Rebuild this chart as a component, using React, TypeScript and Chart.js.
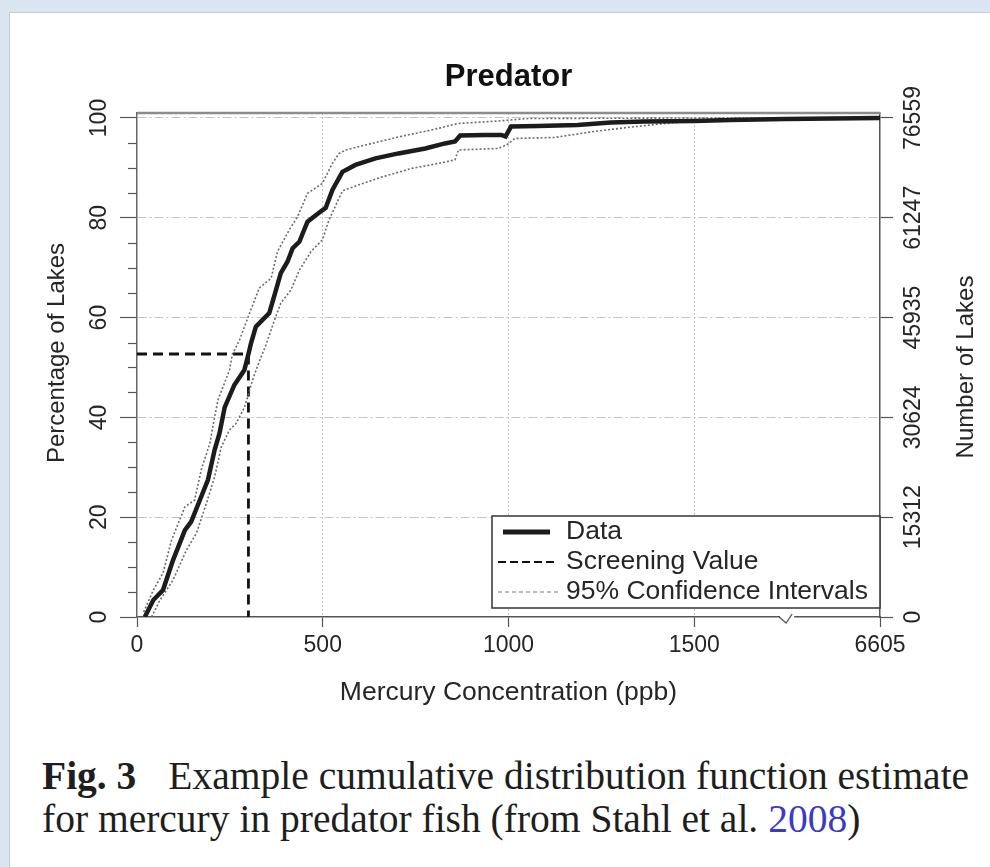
import React, { useEffect, useRef } from "react";
import { Chart, registerables, LinearScale } from "chart.js";

Chart.register(...registerables);

// ---------- data ----------
const TITLE = "Predator";
const X_TITLE = "Mercury Concentration (ppb)";
const Y_TITLE = "Percentage of Lakes";
const Y2_TITLE = "Number of Lakes";

const X_TICKS = [0, 500, 1000, 1500, 6605];
const X_BREAK = 1500;
const X_MAX = 6605;
const Y_TICKS_STEP = 20;
const NUMBER_TICK_LABELS = ["0", "15312", "30624", "45935", "61247", "76559"];

const DATA_CONC = [21, 44, 70, 97, 129, 146, 169, 191, 209, 222, 236, 262, 289, 300, 307, 320, 356, 374, 387, 405, 419, 437, 450, 459, 490, 508, 526, 553, 588, 642, 704, 776, 829, 856, 870, 937, 980, 992, 1007, 1079, 1186, 1275, 1365, 1500, 2500, 4000, 6605];
const DATA_PCT = [0, 3.4, 5.4, 11.4, 17.4, 19.1, 23.4, 27.5, 33.5, 36.8, 42, 46.5, 49.5, 52.7, 54.9, 58.2, 60.9, 65.5, 68.9, 71.2, 73.9, 75.2, 77.6, 79.2, 81, 82, 85.6, 89.2, 90.6, 91.9, 92.9, 93.9, 94.9, 95.3, 96.5, 96.6, 96.6, 96.3, 98.3, 98.4, 98.6, 99.1, 99.3, 99.4, 99.6, 99.8, 100];

const UP_CONC = [18, 44, 70, 93, 129, 155, 173, 196, 209, 218, 249, 257, 276, 303, 329, 361, 378, 410, 432, 459, 499, 526, 544, 562, 615, 704, 793, 865, 972, 1052, 1500, 6605];
const UP_PCT = [1, 5.4, 8.8, 15.4, 22.1, 23.4, 29.5, 34.8, 40.1, 43.5, 49.5, 52.7, 55.5, 60.9, 65.9, 67.9, 73.2, 77.6, 80.2, 84.9, 86.9, 90.9, 92.9, 93.6, 94.6, 96.2, 97.6, 98.9, 99.4, 99.9, 100, 100];

const LO_CONC = [39, 62, 97, 133, 160, 187, 209, 227, 249, 267, 289, 298, 311, 329, 347, 370, 387, 414, 437, 468, 499, 517, 553, 597, 660, 740, 811, 856, 865, 972, 995, 1017, 1124, 1231, 1320, 1409, 1500, 2500, 6605];
const LO_PCT = [0, 3.4, 7.4, 13.4, 16.8, 22.8, 28.1, 34.1, 37.5, 38.8, 42, 44.1, 47.5, 51.2, 54.5, 59.5, 62.9, 65.5, 69.5, 73.2, 75.6, 79.6, 85.4, 86.6, 88.2, 89.9, 90.9, 91.6, 93.6, 93.9, 94.6, 95.9, 96.1, 97.3, 98.1, 98.8, 99.4, 99.7, 100];

const SCREEN_VALUE = 300;
const SCREEN_PCT = 52.7;

const LEGEND_LABELS = ["Data", "Screening Value", "95% Confidence Intervals"];

// ---------- broken x scale ----------
const TAIL_WIDTH = 500; // virtual width of the 1500..6605 segment
function toVirtual(v: number) {
  if (v <= X_BREAK) return v;
  return X_BREAK + ((v - X_BREAK) / (X_MAX - X_BREAK)) * TAIL_WIDTH;
}
function fromVirtual(u: number) {
  if (u <= X_BREAK) return u;
  return X_BREAK + ((u - X_BREAK) / TAIL_WIDTH) * (X_MAX - X_BREAK);
}
const VIRTUAL_MAX = X_BREAK + TAIL_WIDTH;

class BrokenLinearScale extends LinearScale {
  static id = "brokenLinear";
  static defaults = (LinearScale as any).defaults;
  getPixelForValue(value: number) {
    return (this as any).getPixelForDecimal(toVirtual(value) / VIRTUAL_MAX);
  }
  getValueForPixel(pixel: number) {
    return fromVirtual((this as any).getDecimalForPixel(pixel) * VIRTUAL_MAX);
  }
}
Chart.register(BrokenLinearScale as any);

const SANS = '"Liberation Sans", Arial, Helvetica, sans-serif';
const TEXT = "#262626";

const pts = (xs: number[], ys: number[]) => xs.map((x, i) => ({ x, y: ys[i] }));

const decorPlugin = {
  id: "decor",
  afterDraw(chart: any) {
    const { ctx, chartArea: a, scales } = chart;
    const xs = scales.x;
    const ys = scales.y;
    ctx.save();

    // top box edge
    ctx.strokeStyle = "#8c8c8c";
    ctx.lineWidth = 2.5;
    ctx.beginPath();
    ctx.moveTo(a.left, a.top);
    ctx.lineTo(a.right, a.top);
    ctx.stroke();

    // minor ticks on left axis
    ctx.strokeStyle = "#555";
    ctx.lineWidth = 1.2;
    for (let v = 5; v < 100; v += 5) {
      if (v % Y_TICKS_STEP === 0) continue;
      const py = Math.round(ys.getPixelForValue(v)) + 0.5;
      ctx.beginPath();
      ctx.moveTo(a.left - 9, py);
      ctx.lineTo(a.left, py);
      ctx.stroke();
    }

    // axis break mark
    const bx = (xs.getPixelForValue(X_BREAK) + xs.getPixelForValue(X_MAX)) / 2;
    ctx.fillStyle = "#fff";
    ctx.fillRect(bx - 7, a.bottom - 2, 14, 4);
    ctx.strokeStyle = "#555";
    ctx.lineWidth = 1.3;
    ctx.beginPath();
    ctx.moveTo(bx - 8, a.bottom);
    ctx.lineTo(bx - 1, a.bottom + 6);
    ctx.lineTo(bx + 5, a.bottom - 3);
    ctx.stroke();

    // title
    ctx.fillStyle = "#111";
    ctx.font = `bold 31px ${SANS}`;
    ctx.textAlign = "center";
    ctx.textBaseline = "alphabetic";
    ctx.fillText(TITLE, (a.left + a.right) / 2, a.top - 27);

    // axis titles
    ctx.fillStyle = TEXT;
    ctx.font = `26.5px ${SANS}`;
    ctx.textBaseline = "middle";
    ctx.fillText(X_TITLE, (a.left + a.right) / 2, a.bottom + 76);

    ctx.font = `24px ${SANS}`;
    ctx.save();
    ctx.translate(a.left - 80, (a.top + a.bottom) / 2 - 12);
    ctx.rotate(-Math.PI / 2);
    ctx.fillText(Y_TITLE, 0, 0);
    ctx.restore();

    ctx.save();
    ctx.translate(a.right + 86, (a.top + a.bottom) / 2 + 2);
    ctx.rotate(-Math.PI / 2);
    ctx.fillText(Y2_TITLE, 0, 0);
    ctx.restore();

    // legend
    const lw = 388;
    const lh = 92;
    const lx = a.right - lw;
    const ly = a.bottom - 101;
    ctx.fillStyle = "#fff";
    ctx.fillRect(lx, ly, lw, lh);
    ctx.strokeStyle = "#333";
    ctx.lineWidth = 1.5;
    ctx.strokeRect(lx, ly, lw, lh);

    const rows = [ly + 16, ly + 46, ly + 76];
    const ds = chart.data.datasets;
    // data sample
    ctx.setLineDash([]);
    ctx.strokeStyle = ds[0].borderColor;
    ctx.lineWidth = 5;
    ctx.beginPath();
    ctx.moveTo(lx + 11, rows[0]);
    ctx.lineTo(lx + 58, rows[0]);
    ctx.stroke();
    // screening sample
    ctx.setLineDash([8, 4]);
    ctx.strokeStyle = ds[3].borderColor;
    ctx.lineWidth = 2;
    ctx.beginPath();
    ctx.moveTo(lx + 6, rows[1]);
    ctx.lineTo(lx + 66, rows[1]);
    ctx.stroke();
    // CI sample
    ctx.setLineDash([4, 3]);
    ctx.strokeStyle = "#777";
    ctx.lineWidth = 1.2;
    ctx.beginPath();
    ctx.moveTo(lx + 6, rows[2]);
    ctx.lineTo(lx + 66, rows[2]);
    ctx.stroke();
    ctx.setLineDash([]);

    ctx.fillStyle = TEXT;
    ctx.font = `26.5px ${SANS}`;
    ctx.textAlign = "left";
    ctx.textBaseline = "middle";
    LEGEND_LABELS.forEach((t, i) => ctx.fillText(t, lx + 74, rows[i]));

    ctx.restore();
  },
};

export default function App() {
  const ref = useRef<HTMLCanvasElement>(null);

  useEffect(() => {
    if (!ref.current) return;
    const chart = new Chart(ref.current, {
      type: "line",
      data: {
        datasets: [
          {
            label: LEGEND_LABELS[0],
            data: pts(DATA_CONC, DATA_PCT),
            borderColor: "#1c1c1c",
            borderWidth: 4.5,
            pointRadius: 0,
            tension: 0,
          },
          {
            label: "Upper 95%",
            data: pts(UP_CONC, UP_PCT),
            borderColor: "#6c6c6c",
            borderWidth: 1.6,
            borderDash: [2, 2],
            pointRadius: 0,
            tension: 0,
          },
          {
            label: "Lower 95%",
            data: pts(LO_CONC, LO_PCT),
            borderColor: "#6c6c6c",
            borderWidth: 1.6,
            borderDash: [2, 2],
            pointRadius: 0,
            tension: 0,
          },
          {
            label: LEGEND_LABELS[1],
            data: [
              { x: 0, y: SCREEN_PCT },
              { x: SCREEN_VALUE, y: SCREEN_PCT },
              { x: SCREEN_VALUE, y: 0 },
            ],
            borderColor: "#111",
            borderWidth: 2.8,
            borderDash: [10, 6],
            pointRadius: 0,
            tension: 0,
          },
        ],
      },
      options: {
        responsive: false,
        animation: false,
        events: [],
        layout: { padding: { left: 30, top: 113, right: 0, bottom: 0 } },
        plugins: {
          legend: { display: false },
          tooltip: { enabled: false },
          title: { display: false },
        },
        scales: {
          x: {
            type: "brokenLinear" as any,
            position: "bottom",
            min: 0,
            max: X_MAX,
            afterBuildTicks: (s: any) => {
              s.ticks = X_TICKS.map((v) => ({ value: v }));
            },
            afterFit: (s: any) => {
              s.height = 123;
            },
            ticks: {
              autoSkip: false,
              maxRotation: 0,
              padding: 5,
              color: TEXT,
              font: { family: SANS, size: 23 },
              callback: (v: any) => String(v),
            },
            grid: {
              color: (c: any) =>
                c.tick && (c.tick.value === 0 || c.tick.value === X_MAX) ? "rgba(0,0,0,0)" : "#c4c4c4",
              lineWidth: 1,
              tickLength: 10,
              tickColor: "#555",
              tickWidth: 1.2,
            },
            border: { display: true, color: "#555", width: 1.5, dash: [2, 2] },
          },
          y: {
            type: "linear",
            position: "left",
            min: 0,
            max: 101,
            afterFit: (s: any) => {
              s.width = 107;
            },
            ticks: {
              stepSize: Y_TICKS_STEP,
              includeBounds: false,
              minRotation: 90,
              maxRotation: 90,
              crossAlign: "center",
              padding: 1,
              color: TEXT,
              font: { family: SANS, size: 23 },
              callback: (v: any) => String(v),
            },
            grid: {
              color: (c: any) => (c.tick && c.tick.value === 0 ? "rgba(0,0,0,0)" : "#c4c4c4"),
              lineWidth: 1,
              tickLength: 17,
              tickColor: "#555",
              tickWidth: 1.2,
            },
            border: { display: true, color: "#666", width: 1.5, dash: [9, 3, 2, 3] },
          },
          y2: {
            type: "linear",
            position: "right",
            min: 0,
            max: 101,
            afterFit: (s: any) => {
              s.width = 110;
            },
            ticks: {
              stepSize: Y_TICKS_STEP,
              includeBounds: false,
              minRotation: 90,
              maxRotation: 90,
              crossAlign: "center",
              padding: -11,
              color: TEXT,
              font: { family: SANS, size: 23 },
              callback: (_v: any, i: number) => NUMBER_TICK_LABELS[i],
            },
            grid: {
              drawOnChartArea: false,
              tickLength: 13,
              tickColor: "#555",
              tickWidth: 1.2,
            },
            border: { display: true, color: "#555", width: 1.5 },
          },
        },
      },
      plugins: [decorPlugin],
    });
    return () => chart.destroy();
  }, []);

  return (
    <div
      style={{
        position: "absolute",
        left: 0,
        top: 0,
        width: 990,
        height: 867,
        background: "#dbe5f1",
        overflow: "hidden",
      }}
    >
      <div
        style={{
          position: "absolute",
          left: 9,
          top: 12,
          right: 0,
          bottom: 0,
          background: "#fff",
          borderLeft: "1px solid #c3ccd8",
          borderTop: "1px solid #c3ccd8",
        }}
      />
      <canvas
        ref={ref}
        width={990}
        height={740}
        style={{ position: "absolute", left: 0, top: 0, width: 990, height: 740 }}
      />
      <div
        style={{
          position: "absolute",
          left: 42,
          top: 755,
          fontFamily: '"Liberation Serif", "Times New Roman", serif',
          fontSize: 39.5,
          lineHeight: "43px",
          color: "#1e1e1e",
          whiteSpace: "nowrap",
        }}
      >
        <b>Fig. 3</b>
        <span style={{ marginLeft: 32 }}>Example cumulative distribution function estimate</span>
        <br />
        for mercury in predator fish (from Stahl et al. <span style={{ color: "#3a3ac8" }}>2008</span>)
      </div>
    </div>
  );
}
